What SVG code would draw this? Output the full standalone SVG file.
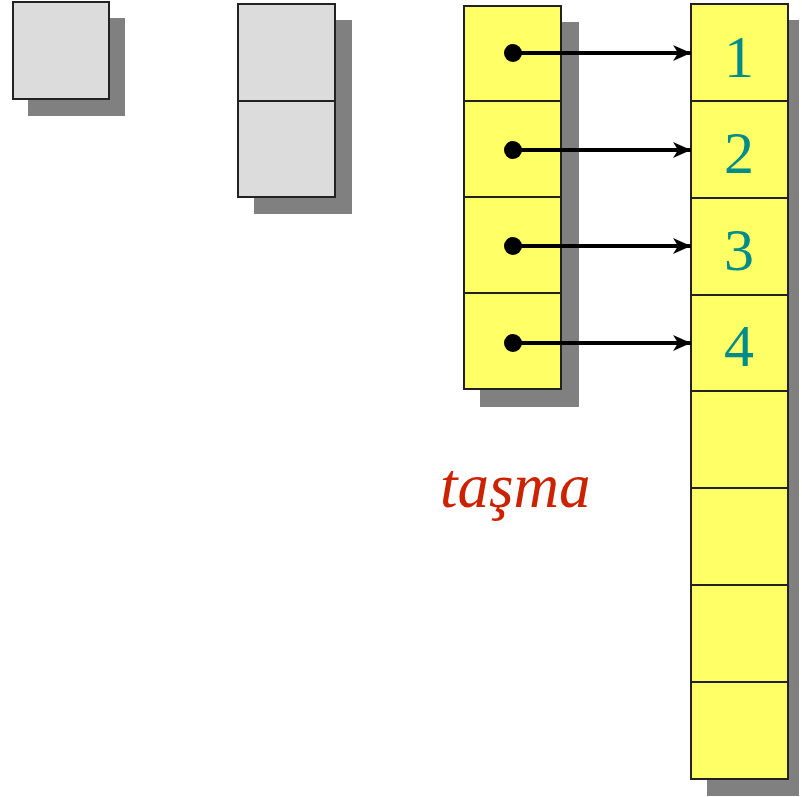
<svg xmlns="http://www.w3.org/2000/svg" width="802" height="797" viewBox="0 0 802 797">
<defs>
<style>
.sh{fill:#808080}
.g{fill:#dcdcdc;stroke:#222;stroke-width:2}
.y{fill:#ffff66;stroke:#222;stroke-width:2}
.dv{stroke:#222;stroke-width:2}
.num{font-family:"Liberation Serif",serif;font-size:60px;fill:#008b8b;text-anchor:middle}
.lbl{font-family:"Liberation Serif",serif;font-size:63px;font-style:italic;fill:#cc2200}
.ar{stroke:#000;stroke-width:4;fill:none}
</style>
<marker id="ah" markerWidth="18" markerHeight="16" refX="18" refY="8" orient="auto" markerUnits="userSpaceOnUse" viewBox="0 0 18 16">
<path d="M0,0 L18,8 L0,16 L5,8 Z" fill="#000"/>
</marker>
</defs>
<rect width="802" height="797" fill="#fff"/>
<g id="box1">
<rect class="sh" x="28" y="18" width="97" height="98"/>
<rect class="g" x="13" y="2" width="96" height="97"/>
</g>
<g id="box2">
<rect class="sh" x="254" y="20" width="98" height="194"/>
<rect class="g" x="238" y="4" width="97" height="193"/>
<line class="dv" x1="238" y1="101" x2="335" y2="101"/>
</g>
<g id="table">
<rect class="sh" x="480" y="22" width="99" height="385"/>
<rect class="y" x="464" y="6" width="97" height="383"/>
<line class="dv" x1="464" y1="101" x2="561" y2="101"/>
<line class="dv" x1="464" y1="197" x2="561" y2="197"/>
<line class="dv" x1="464" y1="293" x2="561" y2="293"/>
</g>
<g id="buckets">
<rect class="sh" x="707" y="20" width="92" height="776"/>
<rect class="y" x="691" y="4" width="97" height="775"/>
<line class="dv" x1="691" y1="101" x2="788" y2="101"/>
<line class="dv" x1="691" y1="198" x2="788" y2="198"/>
<line class="dv" x1="691" y1="295" x2="788" y2="295"/>
<line class="dv" x1="691" y1="391" x2="788" y2="391"/>
<line class="dv" x1="691" y1="488" x2="788" y2="488"/>
<line class="dv" x1="691" y1="585" x2="788" y2="585"/>
<line class="dv" x1="691" y1="682" x2="788" y2="682"/>
<text class="num" x="739" y="77">1</text>
<text class="num" x="739" y="173">2</text>
<text class="num" x="739" y="270">3</text>
<text class="num" x="739" y="366">4</text>
</g>
<g id="connectors">
<circle cx="513" cy="53" r="9"/>
<circle cx="513" cy="150" r="9"/>
<circle cx="513" cy="246" r="9"/>
<circle cx="513" cy="343" r="9"/>
<line class="ar" x1="513" y1="53" x2="691" y2="53" marker-end="url(#ah)"/>
<line class="ar" x1="513" y1="150" x2="691" y2="150" marker-end="url(#ah)"/>
<line class="ar" x1="513" y1="246" x2="691" y2="246" marker-end="url(#ah)"/>
<line class="ar" x1="513" y1="343" x2="691" y2="343" marker-end="url(#ah)"/>
</g>
<text class="lbl" x="440" y="507">taşma</text>
</svg>
